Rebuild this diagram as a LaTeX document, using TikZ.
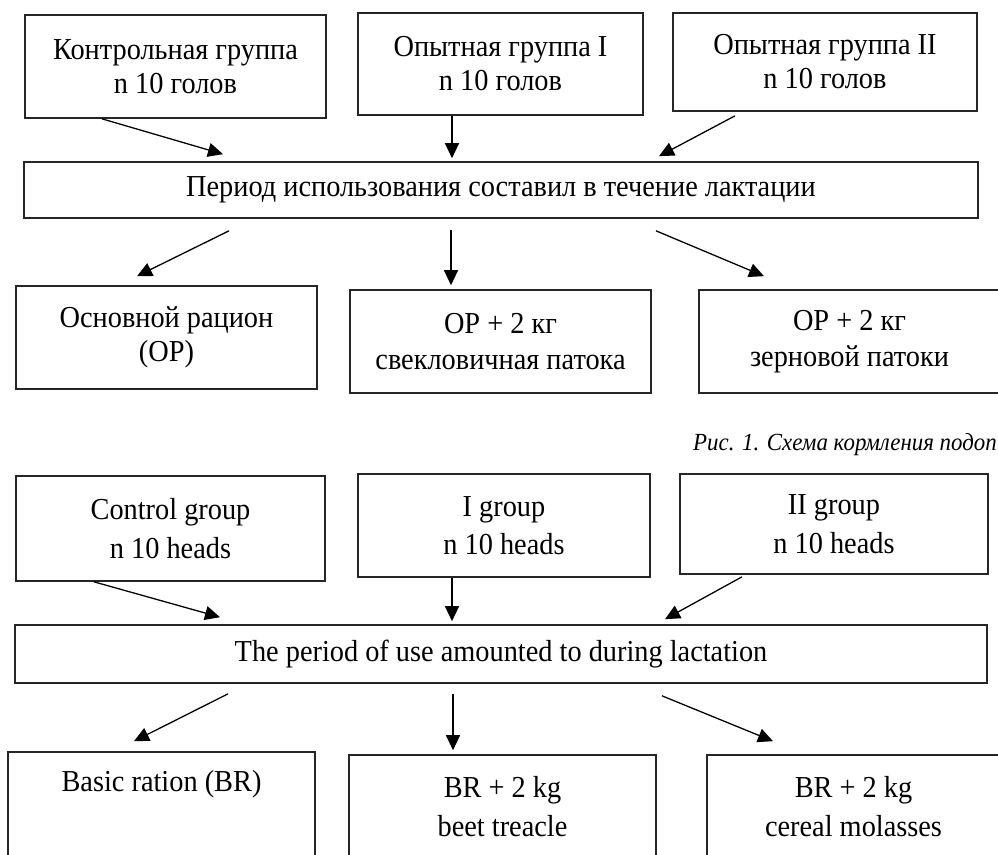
\documentclass[tikz,border=0pt]{standalone}
\usepackage{fontspec}
\setmainfont{Liberation Serif}[FakeStretch=0.93]
\usetikzlibrary{arrows.meta}

\begin{document}
\begin{tikzpicture}[
  x=0.03cm, y=-0.03cm,
  grpbox/.style={rectangle, draw=black!85, line width=1.4pt, inner sep=0pt, align=center,
    font=\fontsize{26}{29}\selectfont},
  capt/.style={font=\fontsize{21}{24}\selectfont\itshape, inner sep=0pt, anchor=east},
  arr/.style={-{Triangle[length=0.45cm, width=0.42cm]}, line width=1.1pt}
]
\useasboundingbox (0,0) rectangle (998,854);
\clip (0,0) rectangle (998,854);

% Russian scheme: groups
\node[grpbox, minimum width=9.03cm, minimum height=3.09cm] (ctrlru) at (175.5,66.5) {Контрольная группа\\n 10 голов};
\node[grpbox, minimum width=8.55cm, minimum height=3.06cm] (grp1ru) at (500.5,64) {Опытная группа I\\n 10 голов};
\node[grpbox, minimum width=9.12cm, minimum height=2.94cm] (grp2ru) at (825,62) {Опытная группа II\\n 10 голов};

% Russian scheme: period
\node[grpbox, minimum width=28.62cm, minimum height=1.68cm] (periodru) at (501,190) {Период использования составил в течение лактации};

\draw[arr] ([shift={(-73.5,0)}]ctrlru.south) -- ([shift={(-278,-7)}]periodru.north);
\draw[arr] ([shift={(-48.5,0)}]grp1ru.south) -- ([shift={(-49,-3)}]periodru.north);
\draw[arr] ([shift={(-90,4)}]grp2ru.south) -- ([shift={(158,-5)}]periodru.north);

% Russian scheme: rations
\node[grpbox, minimum width=9.03cm, minimum height=3.09cm] (basicru) at (166.5,337.5) {Основной рацион\\(ОР)};
\node[grpbox, minimum width=9.03cm, minimum height=3.09cm] (beetru) at (500.5,341.5) {ОР + 2 кг\\[2pt]свекловичная патока};
\node[grpbox, minimum width=9.03cm, minimum height=3.09cm] (cerealru) at (849.5,341.5) {ОР + 2 кг\\[2pt]зерновой патоки};

\draw[arr] ([shift={(-272,12)}]periodru.south) -- ([shift={(-29.5,-9)}]basicru.north);
\draw[arr] ([shift={(-50,11)}]periodru.south) -- ([shift={(-49.5,-4)}]beetru.north);
\draw[arr] ([shift={(155,12)}]periodru.south) -- ([shift={(-85.5,-13)}]cerealru.north);

% Caption
\node[capt] (caption) at (997,445) {Рис. 1. Схема кормления подоп};

% English scheme: groups
\node[grpbox, minimum width=9.27cm, minimum height=3.15cm] (ctrlen) at (170.5,528.5) {Control group\\[4pt]n 10 heads};
\node[grpbox, minimum width=8.76cm, minimum height=3.09cm] (grp1en) at (504,525.5) {I group\\[4pt]n 10 heads};
\node[grpbox, minimum width=9.24cm, minimum height=3.0cm] (grp2en) at (834,524) {II group\\[4pt]n 10 heads};

% English scheme: period
\node[grpbox, minimum width=29.16cm, minimum height=1.74cm] (perioden) at (501,654) {The period of use amounted to during lactation};

\draw[arr] ([shift={(-76.5,0)}]ctrlen.south) -- ([shift={(-281,-7)}]perioden.north);
\draw[arr] ([shift={(-52,0)}]grp1en.south) -- ([shift={(-49,-3)}]perioden.north);
\draw[arr] ([shift={(-92,2)}]grp2en.south) -- ([shift={(164,-5)}]perioden.north);

% English scheme: rations (cut off by the page)
\node[grpbox, minimum width=9.21cm, minimum height=3.18cm] (basicen) at (161.5,805) {Basic ration (BR)\\[4pt]\strut};
\node[grpbox, minimum width=9.21cm, minimum height=3.09cm] (beeten) at (502.5,806.5) {BR + 2 kg\\[4pt]beet treacle};
\node[grpbox, minimum width=8.79cm, minimum height=3.09cm] (cerealen) at (853.5,806.5) {BR + 2 kg\\[4pt]cereal molasses};

\draw[arr] ([shift={(-273,10)}]perioden.south) -- ([shift={(-27.5,-10)}]basicen.north);
\draw[arr] ([shift={(-48,10)}]perioden.south) -- ([shift={(-49.5,-4)}]beeten.north);
\draw[arr] ([shift={(161,12)}]perioden.south) -- ([shift={(-80.5,-13)}]cerealen.north);

\end{tikzpicture}
\end{document}
